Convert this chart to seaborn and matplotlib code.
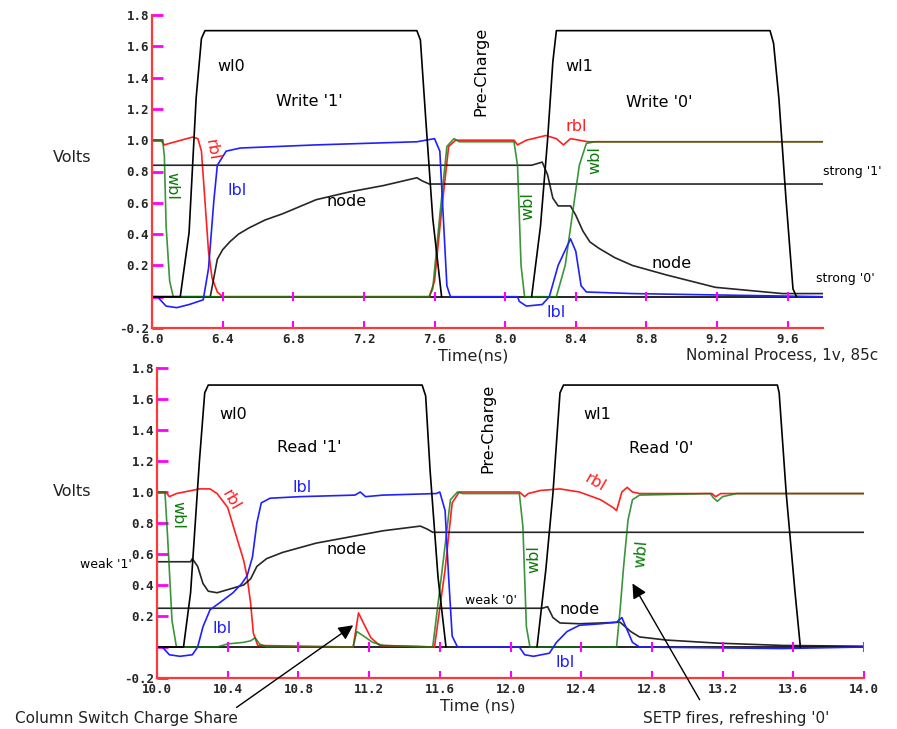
import matplotlib
matplotlib.use("Agg")
import matplotlib.pyplot as plt
import seaborn as sns

# ---------------- data: top panel (write cycle) ----------------
top_xticks = [6.0, 6.4, 6.8, 7.2, 7.6, 8.0, 8.4, 8.8, 9.2, 9.6]
bot_xticks = [10.0, 10.4, 10.8, 11.2, 11.6, 12.0, 12.4, 12.8, 13.2, 13.6, 14.0]
yticks = [-0.2, 0.0, 0.2, 0.4, 0.6, 0.8, 1.0, 1.2, 1.4, 1.6, 1.8]
ytick_labels = ["-0.2", "", "0.2", "0.4", "0.6", "0.8", "1.0", "1.2", "1.4", "1.6", "1.8"]

top_wl0_t = [6.00, 6.16, 6.21, 6.25, 6.28, 6.30, 7.50, 7.52, 7.55, 7.59, 7.64]
top_wl0_v = [0.00, 0.00, 0.41, 1.27, 1.65, 1.70, 1.70, 1.64, 1.14, 0.50, 0.00]

top_wl1_t = [8.15, 8.20, 8.24, 8.27, 8.29, 9.50, 9.52, 9.55, 9.59, 9.63, 9.65]
top_wl1_v = [0.00, 0.45, 1.00, 1.50, 1.70, 1.70, 1.62, 1.27, 0.63, 0.05, 0.00]

top_node1_t = [6.00, 6.33, 6.35, 6.37, 6.40, 6.44, 6.49, 6.55, 6.64, 6.74, 6.93, 7.12, 7.31, 7.50, 7.53, 7.57, 9.80]
top_node1_v = [0.00, 0.00, 0.12, 0.24, 0.30, 0.35, 0.40, 0.44, 0.49, 0.53, 0.62, 0.67, 0.71, 0.76, 0.74, 0.72, 0.72]

top_node2_t = [6.00, 8.15, 8.21, 8.24, 8.27, 8.30, 8.37, 8.40, 8.44, 8.48, 8.53, 8.62, 8.72, 8.91, 9.19, 9.57, 9.80]
top_node2_v = [0.84, 0.84, 0.86, 0.78, 0.63, 0.58, 0.58, 0.52, 0.42, 0.35, 0.31, 0.25, 0.20, 0.14, 0.06, 0.02, 0.02]

top_wbl_t = [6.00, 6.06, 6.07, 6.08, 6.10, 6.12, 7.57, 7.59, 7.63, 7.67, 7.71, 7.74,
             8.05, 8.07, 8.09, 8.11, 8.29, 8.34, 8.38, 8.42, 8.46, 8.51, 9.80]
top_wbl_v = [1.00, 1.00, 0.90, 0.45, 0.10, 0.00, 0.00, 0.05, 0.52, 0.96, 1.01, 0.99,
             0.99, 0.84, 0.20, 0.00, 0.00, 0.20, 0.52, 0.84, 0.98, 0.99, 0.99]

top_rbl_t = [6.00, 6.05, 6.07, 6.10, 6.23, 6.26, 6.28, 6.30, 6.32, 6.34, 6.37, 6.40,
             7.57, 7.60, 7.64, 7.68, 7.72, 8.05, 8.07, 8.12, 8.23, 8.29, 8.33, 8.37,
             8.42, 8.47, 9.80]
top_rbl_v = [1.00, 1.00, 0.97, 0.98, 1.02, 1.01, 0.93, 0.61, 0.29, 0.12, 0.03, 0.00,
             0.00, 0.10, 0.55, 0.96, 1.00, 1.00, 0.97, 1.00, 1.03, 1.01, 0.97, 1.01,
             1.00, 0.99, 0.99]

top_lbl_t = [6.00, 6.03, 6.08, 6.14, 6.21, 6.29, 6.32, 6.35, 6.37, 6.42, 6.50, 6.93,
             7.50, 7.60, 7.63, 7.65, 7.67, 7.69, 8.07, 8.08, 8.12, 8.21, 8.25, 8.30,
             8.37, 8.40, 8.43, 8.46, 8.72, 9.80]
top_lbl_v = [0.00, 0.00, -0.06, -0.07, -0.05, -0.02, 0.18, 0.61, 0.84, 0.93, 0.95, 0.97,
             0.99, 1.01, 0.93, 0.50, 0.07, 0.00, 0.00, -0.03, -0.06, -0.05, 0.00, 0.20,
             0.37, 0.29, 0.07, 0.03, 0.02, 0.00]

# ---------------- data: bottom panel (read cycle) ----------------
bot_wl0_t = [10.00, 10.15, 10.19, 10.24, 10.27, 10.29, 11.50, 11.52, 11.545, 11.59, 11.635]
bot_wl0_v = [0.00, 0.00, 0.35, 1.20, 1.64, 1.69, 1.69, 1.62, 1.14, 0.45, 0.00]

bot_wl1_t = [12.15, 12.20, 12.24, 12.28, 12.30, 13.51, 13.52, 13.56, 13.61, 13.64]
bot_wl1_v = [0.00, 0.50, 0.99, 1.64, 1.69, 1.69, 1.64, 0.99, 0.35, 0.00]

bot_node1_t = [10.00, 10.19, 10.20, 10.23, 10.26, 10.29, 10.34, 10.43, 10.49, 10.53, 10.565,
               10.62, 10.71, 10.90, 11.09, 11.28, 11.49, 11.53, 11.56, 14.00]
bot_node1_v = [0.55, 0.55, 0.57, 0.52, 0.41, 0.36, 0.35, 0.38, 0.40, 0.44, 0.52,
               0.57, 0.61, 0.67, 0.71, 0.75, 0.78, 0.76, 0.74, 0.74]

bot_node2_t = [10.00, 12.18, 12.21, 12.24, 12.28, 12.39, 12.51, 12.62, 12.68, 12.73, 12.88, 13.17, 13.54, 14.00]
bot_node2_v = [0.25, 0.25, 0.26, 0.19, 0.155, 0.15, 0.155, 0.16, 0.10, 0.065, 0.045, 0.025, 0.01, 0.005]

bot_wbl_t = [10.00, 10.045, 10.06, 10.085, 10.11, 10.34, 10.40, 10.49, 10.53, 10.555, 10.58, 10.62,
             11.11, 11.13, 11.17, 11.22, 11.28, 11.56, 11.62, 11.66, 11.70, 11.73,
             12.05, 12.07, 12.09, 12.11, 12.60, 12.62, 12.64, 12.665, 12.69, 12.73,
             13.13, 13.15, 13.17, 13.20, 13.28, 14.00]
bot_wbl_v = [1.00, 1.00, 0.71, 0.17, 0.00, 0.00, 0.02, 0.03, 0.04, 0.06, 0.02, 0.00,
             0.00, 0.10, 0.07, 0.03, 0.01, 0.00, 0.56, 0.95, 1.00, 0.99,
             0.99, 0.78, 0.13, 0.00, 0.00, 0.24, 0.52, 0.82, 0.95, 0.98,
             0.99, 0.96, 0.94, 0.97, 0.99, 0.99]

bot_rbl_t = [10.00, 10.05, 10.07, 10.11, 10.24, 10.30, 10.34, 10.40, 10.45, 10.49, 10.51, 10.53,
             10.545, 10.57, 11.11, 11.14, 11.17, 11.21, 11.26, 11.57, 11.63, 11.67, 11.71,
             12.05, 12.08, 12.10, 12.17, 12.28, 12.39, 12.51, 12.58, 12.60, 12.63, 12.66,
             12.69, 12.73, 13.14, 13.16, 13.19, 14.00]
bot_rbl_v = [1.00, 1.00, 0.97, 0.99, 1.02, 1.02, 0.99, 0.90, 0.71, 0.56, 0.45, 0.28,
             0.09, 0.01, 0.00, 0.22, 0.15, 0.06, 0.01, 0.00, 0.50, 0.93, 1.00,
             1.00, 0.97, 0.99, 1.01, 1.02, 1.00, 0.95, 0.90, 0.88, 1.00, 1.03,
             1.00, 0.99, 0.99, 0.97, 0.99, 0.99]

bot_lbl_t = [10.00, 10.03, 10.07, 10.13, 10.20, 10.23, 10.26, 10.30, 10.36, 10.43, 10.48, 10.51,
             10.54, 10.565, 10.59, 10.64, 10.81, 11.12, 11.15, 11.18, 11.28, 11.58, 11.60,
             11.63, 11.65, 11.67, 11.70, 12.05, 12.08, 12.13, 12.22, 12.26, 12.32, 12.39,
             12.51, 12.60, 12.63, 12.66, 12.69, 12.73, 13.54, 14.00]
bot_lbl_v = [0.00, 0.00, -0.05, -0.06, -0.05, 0.00, 0.13, 0.24, 0.29, 0.35, 0.41, 0.46,
             0.58, 0.80, 0.93, 0.96, 0.97, 0.98, 1.00, 0.97, 0.98, 0.99, 1.00,
             0.88, 0.45, 0.07, 0.00, 0.00, -0.05, -0.06, -0.04, 0.03, 0.10, 0.14,
             0.15, 0.16, 0.19, 0.11, 0.03, 0.00, -0.01, 0.00]

# ---------------- styling ----------------
sns.set_theme(style="white")
plt.rcParams["font.family"] = ["DejaVu Sans"]

RED = "#ff2020"
BLUE = "#2020ff"
GREEN = "#0b7a0b"
BLACK = "#000000"
MAG = "#ff00ff"
SPINE = "#ff3838"

fig = plt.figure(figsize=(8.97, 7.29), dpi=100)
fig.patch.set_facecolor("white")
ax1 = fig.add_axes([152 / 897, 1 - 328 / 729, (823 - 152) / 897, (328 - 15) / 729])
ax2 = fig.add_axes([157 / 897, 1 - 678 / 729, (864 - 157) / 897, (678 - 368) / 729])


def draw(ax, t, v, color, z=2, lw=1.2, alpha=1.0):
    sns.lineplot(x=t, y=v, ax=ax, color=color, lw=lw, sort=False,
                 estimator=None, zorder=z, alpha=alpha, legend=False)


def style(ax, xlim, xticks):
    ax.set_facecolor("white")
    ax.set_xlim(*xlim)
    ax.set_ylim(-0.2, 1.8)
    for s in ["top", "right"]:
        ax.spines[s].set_visible(False)
    for s in ["left", "bottom"]:
        ax.spines[s].set_color(SPINE)
        ax.spines[s].set_linewidth(1.6)
        ax.spines[s].set_zorder(6)
    ax.set_xticks(xticks)
    ax.set_xticklabels([f"{x:.1f}" for x in xticks])
    ax.set_yticks(yticks)
    ax.set_yticklabels(ytick_labels)
    ax.tick_params(axis="y", direction="in", length=8, width=2, color=MAG, pad=2,
                   left=True)
    ax.tick_params(axis="x", direction="in", length=5, width=1.5, color=MAG, pad=3.5,
                   bottom=True)
    for lab in ax.get_xticklabels() + ax.get_yticklabels():
        lab.set_fontfamily("DejaVu Sans Mono")
        lab.set_fontweight("bold")
        lab.set_fontsize(9)
    for lab in ax.get_yticklabels():
        lab.set_verticalalignment("center_baseline")
    ax.set_xlabel("")
    ax.set_ylabel("")
    ax.grid(False)
    ax.axhline(0, color=BLACK, lw=1.2, zorder=1)
    ax.vlines(xticks[1:], -0.03, 0.03, color=MAG, lw=1.5, zorder=5)


for ax, d in [
    (ax1, [(top_rbl_t, top_rbl_v, RED, 2, 1.0), (top_wbl_t, top_wbl_v, GREEN, 3, 0.8),
           (top_lbl_t, top_lbl_v, BLUE, 4, 1.0),
           (top_node1_t, top_node1_v, BLACK, 2, 0.85), (top_node2_t, top_node2_v, BLACK, 2, 0.85),
           (top_wl0_t, top_wl0_v, BLACK, 5, 1.0), (top_wl1_t, top_wl1_v, BLACK, 5, 1.0)]),
    (ax2, [(bot_rbl_t, bot_rbl_v, RED, 2, 1.0), (bot_wbl_t, bot_wbl_v, GREEN, 3, 0.8),
           (bot_lbl_t, bot_lbl_v, BLUE, 4, 1.0),
           (bot_node1_t, bot_node1_v, BLACK, 2, 0.85), (bot_node2_t, bot_node2_v, BLACK, 2, 0.85),
           (bot_wl0_t, bot_wl0_v, BLACK, 5, 1.0), (bot_wl1_t, bot_wl1_v, BLACK, 5, 1.0)]),
]:
    for t, v, c, z, a in d:
        draw(ax, t, v, c, z=z, alpha=a)

style(ax1, (6.0, 9.8), top_xticks)
style(ax2, (10.0, 14.0), bot_xticks)

FS = 11.5
SFS = 9


def lab(ax, x, y, s, color=BLACK, rot=0, fs=FS, ha="center"):
    ax.text(x, y, s, color=color, rotation=rot, fontsize=fs, ha=ha, va="center",
            clip_on=False, zorder=8,
            rotation_mode="anchor" if rot not in (0, 90, -90) else "default")


# top labels
lab(ax1, 6.45, 1.47, "wl0")
lab(ax1, 6.89, 1.25, "Write '1'")
lab(ax1, 7.86, 1.44, "Pre-Charge", rot=90)
lab(ax1, 8.42, 1.47, "wl1")
lab(ax1, 8.87, 1.24, "Write '0'")
lab(ax1, 8.40, 1.09, "rbl", RED)
lab(ax1, 6.34, 0.94, "rbl", RED, rot=-80)
lab(ax1, 6.11, 0.71, "wbl", GREEN, rot=-90)
lab(ax1, 8.13, 0.58, "wbl", GREEN, rot=90)
lab(ax1, 8.51, 0.87, "wbl", GREEN, rot=90)
lab(ax1, 6.48, 0.68, "lbl", BLUE)
lab(ax1, 8.29, -0.10, "lbl", BLUE)
lab(ax1, 7.10, 0.61, "node")
lab(ax1, 8.94, 0.21, "node")
lab(ax1, 9.80, 0.80, "strong '1'", fs=SFS, ha="left")
lab(ax1, 9.76, 0.115, "strong '0'", fs=SFS, ha="left")

# bottom labels
lab(ax2, 10.43, 1.50, "wl0")
lab(ax2, 10.86, 1.29, "Read '1'")
lab(ax2, 11.87, 1.41, "Pre-Charge", rot=90)
lab(ax2, 12.49, 1.50, "wl1")
lab(ax2, 12.85, 1.28, "Read '0'")
lab(ax2, 12.48, 1.06, "rbl", RED, rot=-30)
lab(ax2, 10.42, 0.95, "rbl", RED, rot=-60)
lab(ax2, 10.12, 0.85, "wbl", GREEN, rot=-90)
lab(ax2, 12.13, 0.57, "wbl", GREEN, rot=90)
lab(ax2, 12.74, 0.60, "wbl", GREEN, rot=85)
lab(ax2, 10.82, 1.03, "lbl", BLUE)
lab(ax2, 10.37, 0.12, "lbl", BLUE)
lab(ax2, 12.31, -0.10, "lbl", BLUE)
lab(ax2, 11.07, 0.63, "node")
lab(ax2, 12.39, 0.245, "node")
lab(ax2, 9.86, 0.53, "weak '1'", fs=SFS, ha="right")
lab(ax2, 11.89, 0.30, "weak '0'", fs=SFS)

# arrows
arrow = dict(arrowstyle="-|>", color=BLACK, lw=1.0, mutation_scale=22, shrinkA=0, shrinkB=0)
ax2.annotate("", xy=(11.11, 0.14), xytext=(10.45, -0.39), arrowprops=arrow,
             annotation_clip=False, zorder=9)
ax2.annotate("", xy=(12.69, 0.41), xytext=(13.07, -0.34), arrowprops=arrow,
             annotation_clip=False, zorder=9)

# figure texts
W, H = 897, 729


def ftxt(px, py, s, ha="center", fs=FS):
    fig.text(px / W, 1 - py / H, s, ha=ha, va="center", fontsize=fs, color="#222222")


ftxt(72, 157, "Volts")
ftxt(72, 492, "Volts")
ftxt(473, 356, "Time(ns)")
ftxt(686, 356, "Nominal Process, 1v, 85c", ha="left", fs=11)
ftxt(478, 706, "Time (ns)")
ftxt(15, 718, "Column Switch Charge Share", ha="left", fs=11)
ftxt(643, 718, "SETP fires, refreshing '0'", ha="left", fs=11)

fig.savefig("out.png", dpi=100, facecolor="white")
